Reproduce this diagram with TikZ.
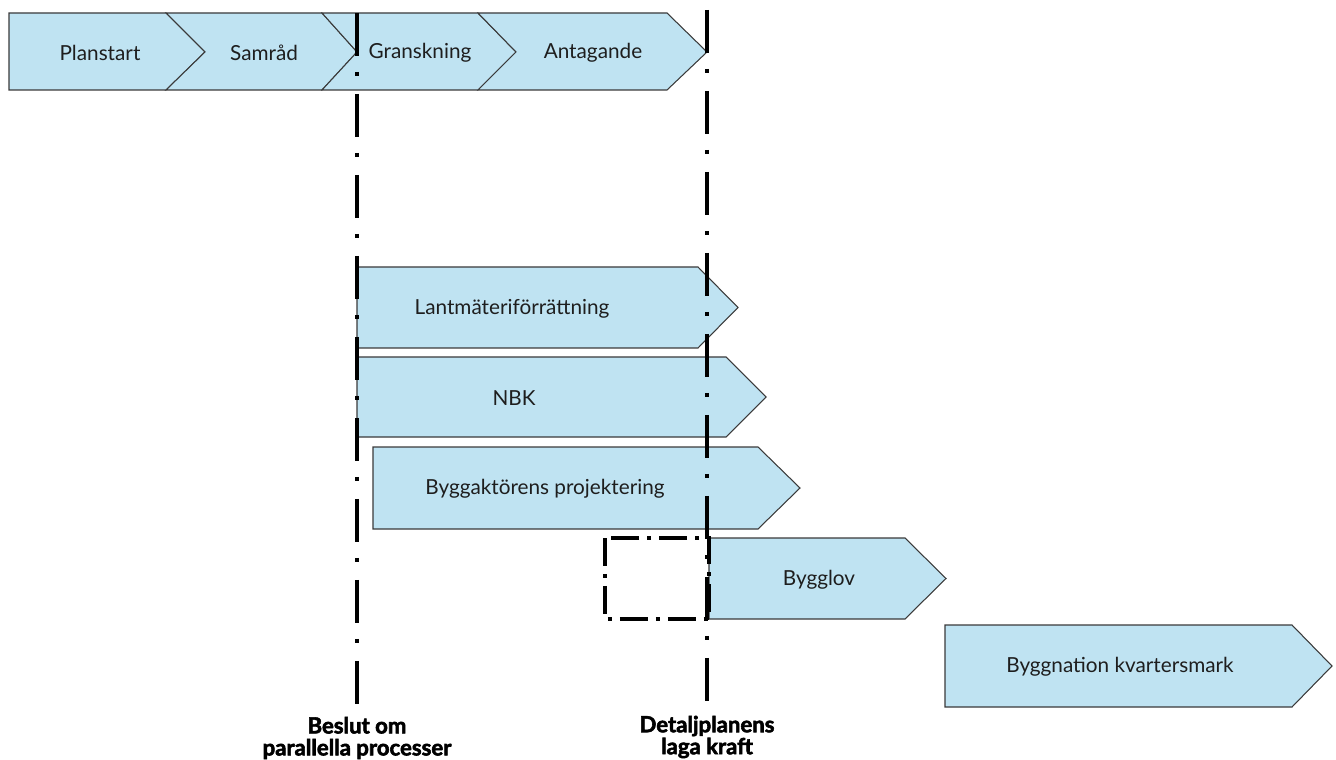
\documentclass[tikz,border=0pt]{standalone}
\usepackage{fontspec}
\setmainfont{Lato}
\newfontfamily\heavyfont[FakeBold=2.5]{Lato}
\usetikzlibrary{positioning}
\definecolor{stagefill}{HTML}{BFE3F2}
\definecolor{stageline}{HTML}{3A3A3A}
\definecolor{stagetext}{HTML}{1E1E1E}
\begin{document}
\begin{tikzpicture}[x=0.02cm,y=-0.02cm,
  stage/.style={fill=stagefill,draw=stageline,line width=0.6pt,line join=miter},
  lbl/.style={text=stagetext,inner sep=0pt,font=\fontsize{11.8}{14}\selectfont},
  milestone/.style={align=center,inner sep=0pt,font=\heavyfont\bfseries\fontsize{12.6}{12.5}\selectfont},
  gate/.style={line width=2.3pt,dash pattern=on 0.86cm off 0.32cm on 0.08cm off 0.36cm},
  waitbox/.style={line width=1.8pt,dash pattern=on 0.56cm off 0.16cm on 0.08cm off 0.16cm}]
\useasboundingbox (0,0) rectangle (1336,760);
\draw[stage] (9,13) -- (166,13) -- (205,52) -- (166,90) -- (9,90) -- cycle;
\draw[stage] (166,13) -- (322,13) -- (357,52) -- (322,90) -- (166,90) -- (205,52) -- cycle;
\draw[stage] (322,13) -- (478,13) -- (516,52) -- (478,90) -- (322,90) -- (357,52) -- cycle;
\draw[stage] (478,13) -- (667,13) -- (707,52) -- (667,90) -- (478,90) -- (516,52) -- cycle;
\foreach \xl/\xr/\xt/\yt/\yb in {357/698/738/267/348, 357/726/766/357/437,
  373/758/800/447/529, 709/905/946/538/619, 945/1292/1332/625/707}
  \draw[stage] (\xl,\yt) -- (\xr,\yt) -- (\xt,{(\yt+\yb)/2}) -- (\xr,\yb) -- (\xl,\yb) -- cycle;
\node[lbl] (planstart) at (100,53) {Planstart};
\node[lbl] (samrad) at (264,53) {Samråd};
\node[lbl] (granskning) at (420,53) {Granskning};
\node[lbl] (antagande) at (593,53) {Antagande};
\node[lbl] (lantmateri) at (512,309) {Lantmäteriförrättning};
\node[lbl] (nbk) at (514,398) {NBK};
\node[lbl] (projektering) at (545,489) {Byggaktörens projektering};
\node[lbl] (bygglov) at (819,580) {Bygglov};
\node[lbl] (byggnation) at (1120,667) {Byggnation kvartersmark};
\draw[waitbox] (605,538) rectangle (709,619);
\coordinate (beslut top) at (357,13);
\coordinate (beslut end) at (357,704);
\coordinate (laga top) at (707,10);
\coordinate (laga end) at (707,701);
\draw[gate] (beslut top) -- (beslut end);
\draw[gate] (laga top) -- (laga end);
\node[milestone] (beslut) at (357,738) {Beslut om\\parallella processer};
\node[milestone] (laga) at (707,737) {Detaljplanens\\laga kraft};
\end{tikzpicture}
\end{document}
